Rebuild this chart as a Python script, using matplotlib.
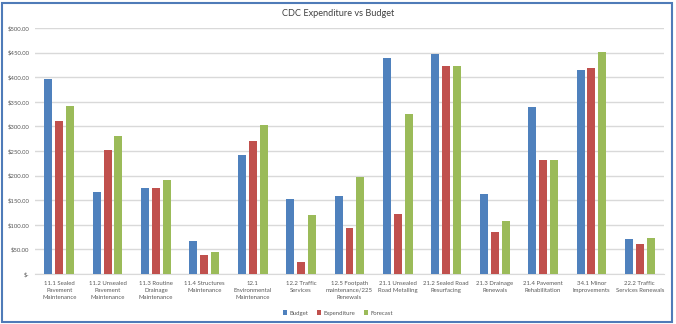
import matplotlib
matplotlib.use("Agg")
import matplotlib.pyplot as plt
import numpy as np
from matplotlib.patches import Rectangle

categories = [
    "11.1 Sealed\nPavement\nMaintenance",
    "11.2 Unsealed\nPavement\nMaintenance",
    "11.3 Routine\nDrainage\nMaintenance",
    "11.4 Structures\nMaintenance",
    "12.1\nEnvironmental\nMaintenance",
    "12.2 Traffic\nServices",
    "12.5 Footpath\nmaintenance/225\nRenewals",
    "21.1 Unsealed\nRoad Metalling",
    "21.2 Sealed Road\nResurfacing",
    "21.3 Drainage\nRenewals",
    "21.4 Pavement\nRehabilitation",
    "34.1 Minor\nImprovements",
    "22.2 Traffic\nServices Renewals",
]
budget = [396, 166, 175, 67, 242, 152, 158, 439, 447, 163, 339, 414, 72]
expenditure = [310, 252, 175, 39, 271, 24, 93, 121, 422, 86, 232, 418, 61]
forecast = [342, 281, 191, 44, 302, 120, 197, 325, 422, 108, 232, 451, 73]
yticks = [0, 50, 100, 150, 200, 250, 300, 350, 400, 450, 500]

plt.rcParams['font.family'] = ['Lato', 'DejaVu Sans']

fig = plt.figure(figsize=(6.76, 3.24), dpi=100)
ax = fig.add_axes([35 / 676, 50 / 324, 629 / 676, 246 / 324])

x = np.arange(len(categories))
w = 0.165
off = 0.225
colors = ["#4F81BD", "#C0504D", "#9BBB59"]
ax.bar(x - off, budget, w, color=colors[0], label="Budget", zorder=3)
ax.bar(x, expenditure, w, color=colors[1], label="Expenditure", zorder=3)
ax.bar(x + off, forecast, w, color=colors[2], label="Forecast", zorder=3)

ax.set_xlim(-0.5, len(categories) - 0.5)
ax.set_ylim(0, 500)
ax.set_yticks(yticks)
ax.set_yticklabels(["$-" if v == 0 else f"${v:.2f}" for v in yticks],
                   fontsize=4.3, color="#595959")
ax.set_xticks(x)
ax.set_xticklabels(categories, fontsize=4.3, color="#595959", linespacing=1.45)
ax.tick_params(axis="both", length=0, pad=4)
ax.tick_params(axis="x", pad=5)
ax.yaxis.grid(True, color="#D9D9D9", linewidth=1.0, zorder=0)
for s in ax.spines.values():
    s.set_visible(False)
ax.spines["bottom"].set_visible(True)
ax.spines["bottom"].set_color("#D9D9D9")

fig.text(0.5, 1 - 14 / 324, "CDC Expenditure vs Budget", ha="center", va="center",
         fontsize=6.6, color="#404040")

leg = fig.legend(loc="center", bbox_to_anchor=(338 / 676, 1 - 313 / 324), ncol=3,
                 frameon=False, fontsize=4.3, handlelength=0.7, handleheight=0.7,
                 columnspacing=1.5, handletextpad=0.4)
for t in leg.get_texts():
    t.set_color("#595959")

fig.patches.append(Rectangle((2 / 676, 2.5 / 324), 669.5 / 676, 319 / 324,
                             transform=fig.transFigure, fill=False,
                             edgecolor="#4F7BB8", linewidth=1.5))

fig.savefig("out.png", dpi=100, facecolor="white")
